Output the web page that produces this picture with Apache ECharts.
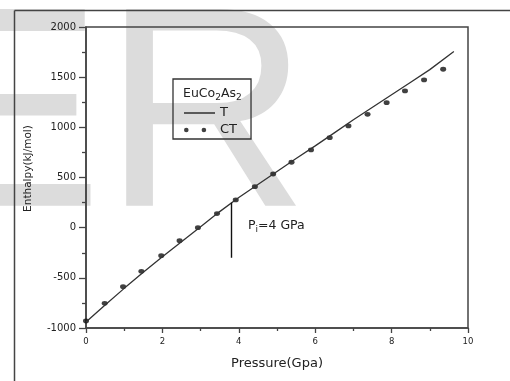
<!DOCTYPE html>
<html><head><meta charset="utf-8">
<script src="https://cdn.jsdelivr.net/npm/echarts@6/dist/echarts.min.js"></script>
<style>html,body{margin:0;padding:0;background:#fff}#c{width:510px;height:381px}</style>
</head><body><div id="c"></div>
<script>
// T curve (solid line)
const pressureT = [0, 0.5, 1, 1.5, 2, 2.5, 3, 3.5, 4, 4.5, 5, 5.5, 6, 6.5, 7, 7.5, 8, 8.5, 9, 9.63];
const enthalpyT = [-940, -770, -605, -445, -290, -140, 10, 160, 300, 430, 560, 690, 815, 945, 1075, 1200, 1325, 1450, 1575, 1755];
// CT points (dots)
const pressureCT = [0, 0.49, 0.97, 1.45, 1.97, 2.45, 2.93, 3.43, 3.92, 4.42, 4.9, 5.38, 5.89, 6.38, 6.87, 7.37, 7.87, 8.35, 8.85, 9.35];
const enthalpyCT = [-930, -754, -588, -435, -279, -130, 0, 140, 276, 409, 535, 652, 775, 897, 1014, 1130, 1246, 1363, 1473, 1579];
// transition marker
const transitionP = [3.81, 3.81];
const transitionH = [250, -300];
const seriesNames = ['T', 'CT'];
const xLabel = 'Pressure(Gpa)';
const yLabel = 'Enthalpy(kJ/mol)';

const chart = echarts.init(document.getElementById('c'), null, {renderer: 'canvas'});
const F = 'DejaVu Sans';
const dark = '#444';
const lineIcon = 'path://M0,5.3H31V6.7H0Z';
const dotsIcon = 'path://M0,2.3a2.3,2.3 0 1,0 4.6,0a2.3,2.3 0 1,0 -4.6,0' +
  'M17.6,2.3a2.3,2.3 0 1,0 4.6,0a2.3,2.3 0 1,0 -4.6,0' +
  'M30.98,2.3a0.01,0.01 0 1,0 0.02,0a0.01,0.01 0 1,0 -0.02,0';

chart.setOption({
  animation: false,
  backgroundColor: '#fff',
  grid: {left: 86, right: 42, top: 27, bottom: 53, show: true, borderColor: dark, borderWidth: 1.5, outerBoundsMode: 'none', containLabel: false},
  xAxis: {
    type: 'value', min: 0, max: 10, interval: 2,
    name: xLabel, nameLocation: 'middle', nameGap: 29,
    nameTextStyle: {fontFamily: F, fontSize: 13, color: '#222'},
    axisLine: {show: true, onZero: false, lineStyle: {color: dark, width: 1.5}},
    axisTick: {show: true, inside: false, length: 5, lineStyle: {color: dark, width: 1.3}},
    minorTick: {show: true, splitNumber: 2, length: 3, lineStyle: {color: dark, width: 1.3}},
    axisLabel: {fontFamily: F, fontSize: 8.5, color: '#222', margin: 9, formatter: v => String(v)},
    splitLine: {show: false}, minorSplitLine: {show: false}
  },
  yAxis: {
    type: 'value', min: -1000, max: 2000, interval: 500,
    axisLine: {show: true, onZero: false, lineStyle: {color: dark, width: 1.5}},
    axisTick: {show: true, inside: false, length: 7, lineStyle: {color: dark, width: 1.3}},
    minorTick: {show: true, splitNumber: 2, length: 4, lineStyle: {color: dark, width: 1.3}},
    axisLabel: {fontFamily: F, fontSize: 10, color: '#222', margin: 10, formatter: v => String(v)},
    splitLine: {show: false}, minorSplitLine: {show: false}
  },
  legend: {
    orient: 'vertical', left: 173, top: 79,
    padding: [27, 14, 2, 11],
    borderColor: '#333', borderWidth: 1.3,
    itemWidth: 31, itemHeight: 12, itemGap: 3,
    selectedMode: false, symbolKeepAspect: true,
    textStyle: {fontFamily: F, fontSize: 13, color: '#222', lineHeight: 14},
    data: [{name: seriesNames[0], icon: lineIcon, itemStyle: {color: '#222'}},
           {name: seriesNames[1], icon: dotsIcon, itemStyle: {color: '#111'}}]
  },
  graphic: [
    {type: 'text', z: -10, x: -88, y: 127, silent: true,
     style: {text: 'ER', font: '286px "Liberation Sans"', fill: '#dcdcdc', align: 'left', verticalAlign: 'middle'}},
    {type: 'line', z: 10, silent: true, shape: {x1: 14.5, y1: 10.5, x2: 14.5, y2: 381}, style: {stroke: dark, lineWidth: 1.5}},
    {type: 'line', z: 10, silent: true, shape: {x1: 14.5, y1: 10.5, x2: 510, y2: 10.5}, style: {stroke: dark, lineWidth: 1.5}},
    {type: 'text', z: 10, x: 28, y: 168.5, rotation: Math.PI / 2, silent: true,
     style: {text: yLabel, font: '10.5px "DejaVu Sans"', fill: '#222', align: 'center', verticalAlign: 'middle'}},
    {type: 'text', z: 10, x: 183, y: 94, silent: true,
     style: {text: '{n|EuCo}{s|2}{n|As}{s|2}', align: 'left', verticalAlign: 'middle',
       rich: {n: {fontFamily: F, fontSize: 12.5, lineHeight: 16, fill: '#222', verticalAlign: 'middle'},
              s: {fontFamily: F, fontSize: 9, lineHeight: 7, fill: '#222', verticalAlign: 'bottom'}}}},
    {type: 'text', z: 10, x: 248, y: 226, silent: true,
     style: {text: '{n|P}{s|i}{n|=4 GPa}', align: 'left', verticalAlign: 'middle',
       rich: {n: {fontFamily: F, fontSize: 12.5, lineHeight: 16, fill: '#222', verticalAlign: 'middle'},
              s: {fontFamily: F, fontSize: 9, lineHeight: 7, fill: '#222', verticalAlign: 'bottom'}}}}
  ],
  series: [
    {name: seriesNames[0], type: 'line', symbol: 'none', smooth: false,
     data: pressureT.map((p, i) => [p, enthalpyT[i]]),
     lineStyle: {color: '#333', width: 1.3}, itemStyle: {color: '#333'},
     emphasis: {disabled: true}, silent: true,
     markLine: {symbol: ['none', 'none'], silent: true, label: {show: false}, emphasis: {disabled: true},
       lineStyle: {color: '#111', width: 1.4, type: 'solid'},
       data: [[{coord: [transitionP[0], transitionH[0]]}, {coord: [transitionP[1], transitionH[1]]}]]}},
    {name: seriesNames[1], type: 'scatter', symbol: 'circle', symbolSize: [6, 4.8],
     data: pressureCT.map((p, i) => [p, enthalpyCT[i]]),
     itemStyle: {color: '#111'}, emphasis: {disabled: true}, silent: true}
  ]
});
</script>
</body></html>
